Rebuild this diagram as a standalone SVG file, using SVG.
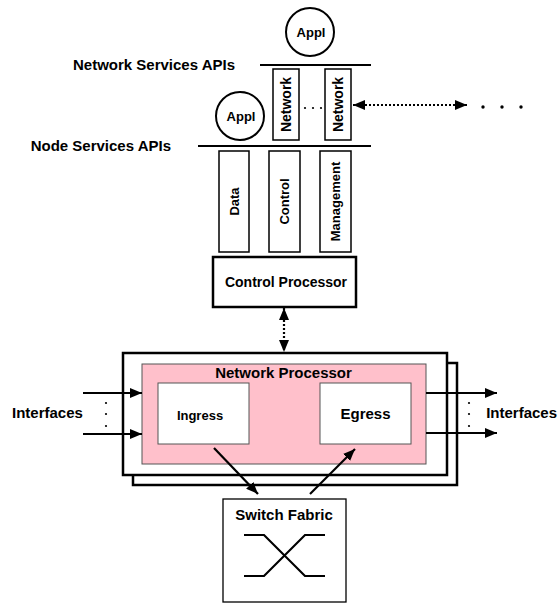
<svg xmlns="http://www.w3.org/2000/svg" width="558" height="603" viewBox="0 0 558 603">
  <style>
    text { font-family: "Liberation Sans", Arial, sans-serif; font-weight: bold; fill: #000; }
    .lbl { font-size: 15px; }
    .small { font-size: 13px; }
    .box { fill: #fff; stroke: #000; stroke-width: 1.5; }
    .heavy { fill: #fff; stroke: #000; stroke-width: 2.5; }
    .api { stroke: #000; stroke-width: 2.2; }
    .solid { stroke: #000; stroke-width: 2.2; fill: none; }
    .dotted { stroke: #000; stroke-width: 2.2; fill: none; stroke-dasharray: 2 2; }
    .dot { fill: #000; }
  </style>
  <defs>
    <marker id="ah" viewBox="0 0 12 10" refX="12" refY="5" markerWidth="12" markerHeight="10" markerUnits="userSpaceOnUse" orient="auto">
      <path d="M0,0 L12,5 L0,10 Z" fill="#000"/>
    </marker>
    <marker id="ahs" viewBox="0 0 12 10" refX="0" refY="5" markerWidth="12" markerHeight="10" markerUnits="userSpaceOnUse" orient="auto">
      <path d="M12,0 L0,5 L12,10 Z" fill="#000"/>
    </marker>
  </defs>

  <!-- API layers -->
  <g id="network-services-api">
    <line class="api" x1="260" y1="65" x2="371" y2="65"/>
    <text class="lbl" x="235" y="70" text-anchor="end">Network Services APIs</text>
  </g>
  <g id="node-services-api">
    <line class="api" x1="198" y1="146" x2="371" y2="146"/>
    <text class="lbl" x="171" y="151" text-anchor="end">Node Services APIs</text>
  </g>

  <!-- Applications -->
  <g id="appl-top">
    <circle cx="310" cy="32" r="24" fill="#fff" stroke="#000" stroke-width="2"/>
    <text x="311" y="36.5" font-size="13" text-anchor="middle">Appl</text>
  </g>
  <g id="appl-node">
    <circle cx="240" cy="116" r="24" fill="#fff" stroke="#000" stroke-width="2"/>
    <text x="241" y="120.5" font-size="13" text-anchor="middle">Appl</text>
  </g>

  <!-- Network service modules -->
  <g id="network-1">
    <rect class="box" x="273" y="69" width="26" height="71"/>
    <text font-size="14" text-anchor="middle" transform="translate(291,104.5) rotate(-90)">Network</text>
  </g>
  <g id="network-2">
    <rect class="box" x="325" y="69" width="26" height="71"/>
    <text font-size="14" text-anchor="middle" transform="translate(343,104.5) rotate(-90)">Network</text>
  </g>
  <g id="network-ellipsis">
    <circle class="dot" cx="305" cy="108" r="1.1"/>
    <circle class="dot" cx="313" cy="108" r="1.1"/>
    <circle class="dot" cx="321" cy="108" r="1.1"/>
  </g>

  <!-- Node service modules -->
  <g id="data">
    <rect class="box" x="219" y="151" width="30" height="101"/>
    <text class="small" text-anchor="middle" transform="translate(238.5,201.5) rotate(-90)">Data</text>
  </g>
  <g id="control">
    <rect class="box" x="269" y="151" width="31" height="101"/>
    <text class="small" text-anchor="middle" transform="translate(289,201.5) rotate(-90)">Control</text>
  </g>
  <g id="management">
    <rect class="box" x="320" y="151" width="31" height="101"/>
    <text class="small" text-anchor="middle" transform="translate(340,201.5) rotate(-90)">Management</text>
  </g>

  <g id="control-processor">
    <rect class="heavy" x="213" y="257" width="143" height="50"/>
    <text x="286" y="287" font-size="14" text-anchor="middle">Control Processor</text>
  </g>

  <!-- Network processor stack -->
  <g id="network-processor">
    <rect class="heavy" x="133" y="363" width="324" height="122"/>
    <rect class="heavy" x="123" y="353" width="324" height="122"/>
    <rect x="142" y="364" width="284" height="100" fill="#ffc0cb" stroke="#555" stroke-width="1"/>
    <text x="283.5" y="377.5" font-size="15" text-anchor="middle">Network Processor</text>
  </g>
  <g id="ingress">
    <rect x="158" y="383" width="91" height="61" fill="#fff" stroke="#555" stroke-width="1"/>
    <text x="200" y="420" font-size="13" text-anchor="middle">Ingress</text>
  </g>
  <g id="egress">
    <rect x="320" y="383" width="91" height="61" fill="#fff" stroke="#555" stroke-width="1"/>
    <text x="365.5" y="419" font-size="15" text-anchor="middle">Egress</text>
  </g>

  <g id="switch-fabric">
    <rect x="223" y="499" width="123" height="103" fill="#fff" stroke="#000" stroke-width="1.3"/>
    <text x="284" y="520" font-size="15" text-anchor="middle">Switch Fabric</text>
    <path class="solid" d="M244,535 H264 L305,576 H325 M244,576 H264 L305,535 H325"/>
  </g>

  <g id="interfaces-in">
    <text class="lbl" x="12" y="418">Interfaces</text>
    <circle class="dot" cx="106" cy="403" r="1.1"/>
    <circle class="dot" cx="106" cy="414" r="1.1"/>
    <circle class="dot" cx="106" cy="426" r="1.1"/>
  </g>
  <g id="interfaces-out">
    <text class="lbl" x="557" y="418" text-anchor="end">Interfaces</text>
    <circle class="dot" cx="469" cy="403" r="1.1"/>
    <circle class="dot" cx="469" cy="414" r="1.1"/>
    <circle class="dot" cx="469" cy="426" r="1.1"/>
  </g>

  <g id="peer-ellipsis">
    <circle class="dot" cx="483" cy="107" r="1.7"/>
    <circle class="dot" cx="502" cy="107" r="1.7"/>
    <circle class="dot" cx="521" cy="107" r="1.7"/>
  </g>

  <!-- Connectors -->
  <g id="connectors">
    <line class="dotted" x1="353" y1="105" x2="467" y2="105" marker-start="url(#ahs)" marker-end="url(#ah)"/>
    <line class="dotted" x1="284" y1="308" x2="284" y2="352" marker-start="url(#ahs)" marker-end="url(#ah)"/>
    <line class="solid" x1="83" y1="393" x2="142" y2="393" marker-end="url(#ah)"/>
    <line class="solid" x1="83" y1="434" x2="142" y2="434" marker-end="url(#ah)"/>
    <line class="solid" x1="426" y1="393" x2="497" y2="393" marker-end="url(#ah)"/>
    <line class="solid" x1="426" y1="433" x2="497" y2="433" marker-end="url(#ah)"/>
    <line class="solid" x1="214" y1="448" x2="258" y2="494" marker-end="url(#ah)"/>
    <line class="solid" x1="310" y1="494" x2="355" y2="449" marker-end="url(#ah)"/>
  </g>
</svg>
